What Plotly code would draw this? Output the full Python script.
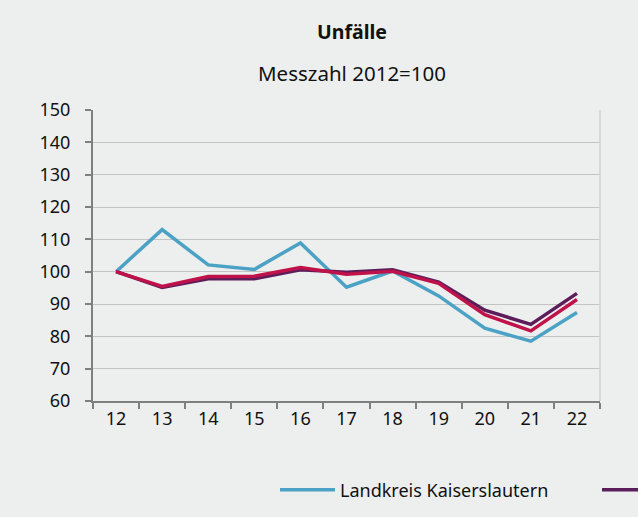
import plotly.graph_objects as go

years = ["12", "13", "14", "15", "16", "17", "18", "19", "20", "21", "22"]
kaiserslautern = [100, 113.0, 102.1, 100.7, 108.9, 95.2, 100.2, 92.5, 82.5, 78.5, 87.4]
series_purple = [100, 95.1, 97.8, 97.8, 100.6, 99.8, 100.6, 96.8, 88.1, 83.7, 93.3]
series_red = [100, 95.4, 98.5, 98.6, 101.3, 99.2, 100.1, 96.4, 86.7, 81.7, 91.4]
name_purple = "\u00a0\u00a0\u00a0\u00a0Westpfalz"
name_red = "Rheinland-Pfalz"
y_ticks = [60, 70, 80, 90, 100, 110, 120, 130, 140, 150]

BG = "#EDEFEE"
FONT = "Noto Sans"

fig = go.Figure()
fig.add_trace(go.Scatter(x=years, y=kaiserslautern, mode="lines", name="Landkreis Kaiserslautern",
                         line=dict(color="#4BA2C5", width=3.5), legend="legend"))
fig.add_trace(go.Scatter(x=years, y=series_purple, mode="lines", name=name_purple,
                         line=dict(color="#5C1D5B", width=3.5), legend="legend2"))
fig.add_trace(go.Scatter(x=years, y=series_red, mode="lines", name=name_red,
                         line=dict(color="#C0124A", width=3.5), showlegend=False))

W = 507.0
H = 291.0
fig.update_layout(
    width=638, height=517,
    paper_bgcolor=BG, plot_bgcolor=BG,
    margin=dict(l=93, r=38, t=110, b=116, autoexpand=False),
    font=dict(family=FONT, size=18, color="#111111"),
    showlegend=True,
    legend=dict(orientation="h", x=(275 - 93) / W, xanchor="left", y=-(490 - 401) / H,
                yanchor="middle", bgcolor="rgba(0,0,0,0)", font=dict(size=18, family=FONT),
                itemwidth=55),
    legend2=dict(orientation="h", x=(597 - 93) / W, xanchor="left", y=-(490 - 401) / H,
                 yanchor="middle", bgcolor="rgba(0,0,0,0)", font=dict(size=18, family=FONT),
                 itemwidth=55),
    annotations=[
        dict(text="<b>Unfälle</b>", x=(352 - 93) / W, y=1 + (110 - 31) / H, xref="paper", yref="paper",
             showarrow=False, font=dict(size=19.5, family=FONT), xanchor="center", yanchor="middle"),
        dict(text="Messzahl 2012=100", x=(352 - 93) / W, y=1 + (110 - 73) / H, xref="paper", yref="paper",
             showarrow=False, font=dict(size=20.5, family=FONT), xanchor="center", yanchor="middle"),
    ],
)

fig.update_xaxes(
    type="category", range=[-0.5, 10.5], tickson="boundaries",
    ticks="outside", ticklen=6, tickwidth=2, tickcolor="#7F7F7F",
    showline=True, linecolor="#7F7F7F", linewidth=2,
    showgrid=False, tickfont=dict(size=18, family=FONT),
)
fig.update_yaxes(
    range=[60, 150], tickvals=y_ticks,
    ticks="outside", ticklen=6, tickwidth=2, tickcolor="#7F7F7F",
    showline=True, linecolor="#7F7F7F", linewidth=2,
    showgrid=True, gridcolor="#C4C4C4", gridwidth=1.3,
    zeroline=False, tickfont=dict(size=18, family=FONT), ticklabelstandoff=11,
)
# right-hand light border of plot area
fig.add_shape(type="line", xref="paper", yref="paper", x0=1, x1=1, y0=0, y1=1,
              line=dict(color="#D0D0D0", width=1.5))

fig.write_html(
    "out.html",
    config={"displayModeBar": False},
    post_script="document.body.style.margin='0';document.body.style.background='%s';" % BG,
)
